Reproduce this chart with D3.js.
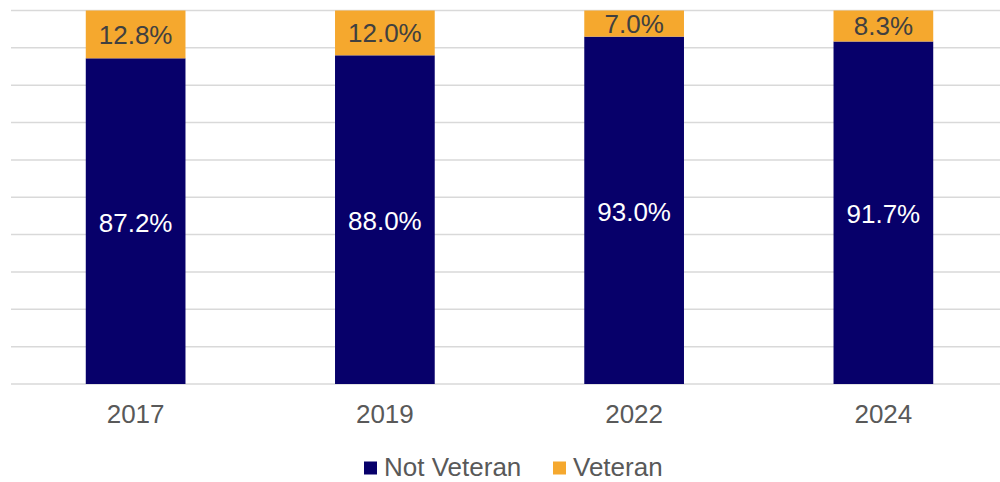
<!DOCTYPE html>
<html>
<head>
<meta charset="utf-8">
<script src="https://cdn.jsdelivr.net/npm/d3@7"></script>
<style>
  body { margin: 0; background: #fff; }
  svg { display: block; font-family: Arial, "Liberation Sans", sans-serif; }
</style>
</head>
<body>
<svg id="chart" width="1000" height="482"></svg>
<script>
// data
var years = ['2017', '2019', '2022', '2024'];
var notVeteran = [87.2, 88.0, 93.0, 91.7];
var veteran = [12.8, 12.0, 7.0, 8.3];
var seriesNames = ['Not Veteran', 'Veteran'];
var gridTicks = [0, 10, 20, 30, 40, 50, 60, 70, 80, 90, 100];

var colors = { 'Not Veteran': '#07006A', 'Veteran': '#F5A82E' };

var svg = d3.select('#chart');

var x = d3.scaleBand()
    .domain(years)
    .range([11, 1008])
    .paddingInner(0.6)
    .paddingOuter(0.3);

var y = d3.scaleLinear()
    .domain([0, 100])
    .range([384, 10.5]);

// gridlines
svg.append('g')
  .selectAll('line')
  .data(gridTicks)
  .join('line')
    .attr('x1', 11)
    .attr('x2', 1000)
    .attr('y1', function(d) { return y(d); })
    .attr('y2', function(d) { return y(d); })
    .attr('stroke', '#D9D9D9')
    .attr('stroke-width', 1.5);

// stack the two series
var rows = years.map(function(yr, i) {
  return { year: yr, 'Not Veteran': notVeteran[i], 'Veteran': veteran[i] };
});
var stacked = d3.stack().keys(seriesNames)(rows);

var layers = svg.append('g')
  .selectAll('g')
  .data(stacked)
  .join('g')
    .attr('fill', function(d) { return colors[d.key]; });

layers.selectAll('rect')
  .data(function(d) { return d; })
  .join('rect')
    .attr('x', function(d) { return x(d.data.year); })
    .attr('width', x.bandwidth())
    .attr('y', function(d) { return y(d[1]); })
    .attr('height', function(d) { return y(d[0]) - y(d[1]); });

// value labels
stacked.forEach(function(layer) {
  svg.append('g')
    .selectAll('text')
    .data(layer)
    .join('text')
      .attr('x', function(d) { return x(d.data.year) + x.bandwidth() / 2; })
      .attr('y', function(d) { return (y(d[0]) + y(d[1])) / 2 + (layer.key === 'Veteran' ? 0 : 1.5); })
      .attr('dy', '0.35em')
      .attr('text-anchor', 'middle')
      .attr('font-size', 26)
      .attr('fill', layer.key === 'Veteran' ? '#404040' : '#ffffff')
      .text(function(d) { return (d[1] - d[0]).toFixed(1) + '%'; });
});

// x axis labels
var xAxis = svg.append('g')
  .attr('transform', 'translate(0,384)')
  .call(d3.axisBottom(x).tickSize(0).tickPadding(21));
xAxis.select('.domain').remove();
xAxis.selectAll('text')
  .attr('font-size', 26)
  .attr('font-family', 'Arial, "Liberation Sans", sans-serif')
  .attr('fill', '#595959');

// legend
var legendX = [364, 553];
var legend = svg.append('g')
  .selectAll('g')
  .data(seriesNames)
  .join('g')
    .attr('transform', function(d, i) { return 'translate(' + legendX[i] + ',0)'; });
legend.append('rect')
  .attr('x', 0)
  .attr('y', 461.5)
  .attr('width', 13)
  .attr('height', 13)
  .attr('fill', function(d) { return colors[d]; });
legend.append('text')
  .attr('x', 20)
  .attr('y', 476)
  .attr('font-size', 26)
  .attr('fill', '#595959')
  .text(function(d) { return d; });
</script>
</body>
</html>
